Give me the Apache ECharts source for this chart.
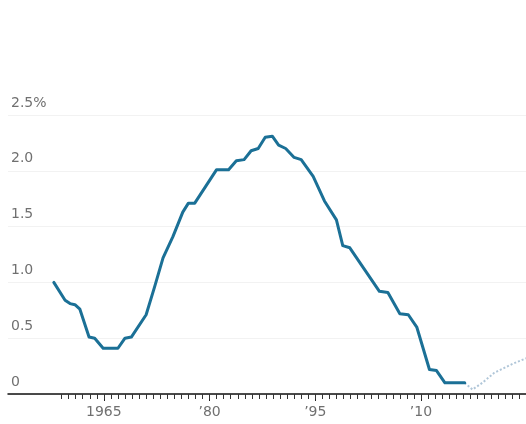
<!DOCTYPE html>
<html>
<head>
<meta charset="utf-8">
<script src="https://cdn.jsdelivr.net/npm/echarts@6/dist/echarts.min.js"></script>
<style>
html,body{margin:0;padding:0;background:#fff;}
#chart{width:526px;height:424px;}
</style>
</head>
<body>
<div id="chart"></div>
<script>
// Observed series (year, percent)
const years = [1957.9,1959.5,1960.2,1960.9,1961.6,1962.9,1963.7,1964.9,1967.0,1968.0,1968.9,1971.0,1972.2,1973.4,1974.8,1976.2,1977.0,1977.9,1981.0,1982.7,1983.8,1984.9,1985.9,1986.9,1987.9,1988.9,1989.8,1990.8,1992.0,1993.0,1994.7,1996.3,1998.0,1998.9,1999.9,2004.1,2005.3,2007.0,2008.2,2009.4,2011.2,2012.2,2013.4,2016.2];
const rate  = [1.00,0.84,0.81,0.80,0.76,0.51,0.50,0.41,0.41,0.50,0.51,0.71,0.96,1.22,1.41,1.63,1.71,1.71,2.01,2.01,2.09,2.10,2.18,2.20,2.30,2.31,2.23,2.20,2.12,2.10,1.95,1.73,1.56,1.33,1.31,0.92,0.91,0.72,0.71,0.60,0.22,0.21,0.10,0.10];
// Projection (dotted)
const projYears = [2016.2,2017.3,2018.7,2020.4,2023.0,2024.9];
const projRate  = [0.10,0.04,0.10,0.19,0.27,0.32];
// Axis ticks/labels
const majorYears = [1965,1980,1995,2010];
const minorYears = [];
for (let y = 1959; y <= 2024; y++) minorYears.push(y);
const yTicks = [0,0.5,1.0,1.5,2.0,2.5];

const xMin = 1951.4, xMax = 2024.9;
const font = 'DejaVu Sans';
const labelColor = '#707070';

const chart = echarts.init(document.getElementById('chart'), null, {renderer:'canvas'});
chart.setOption({
  animation:false,
  backgroundColor:'#ffffff',
  grid:{left:8,right:0,top:115,bottom:30,containLabel:false},
  xAxis:[{
    type:'value', min:xMin, max:xMax,
    axisLine:{show:true,lineStyle:{color:'#111',width:1.5}},
    axisTick:{show:true,customValues:majorYears,length:7,lineStyle:{color:'#222',width:1}},
    axisLabel:{customValues:majorYears,margin:11,color:labelColor,fontFamily:font,fontSize:14,
      formatter:v=> v===1965 ? '1965' : '\u2019' + String(v).slice(2)},
    splitLine:{show:false}
  },{
    type:'value', min:xMin, max:xMax, position:'bottom',
    axisLine:{show:false},
    axisTick:{show:true,customValues:minorYears,length:5,lineStyle:{color:'#333',width:1}},
    axisLabel:{show:false},
    splitLine:{show:false}
  }],
  yAxis:{
    type:'value', min:0, max:2.5, interval:0.5,
    axisLine:{show:false}, axisTick:{show:false},
    axisLabel:{inside:true,margin:3,verticalAlign:'bottom',align:'left',padding:[0,0,5,0],
      color:labelColor,fontFamily:font,fontSize:14,
      formatter:v=> v===2.5 ? '2.5%' : (v===0 ? '0' : v.toFixed(1))},
    splitLine:{show:true,lineStyle:{color:'#f2f2f2',width:1}}
  },
  series:[{
    type:'line', xAxisIndex:0,
    data: years.map((y,i)=>[y,rate[i]]),
    showSymbol:false, symbol:'none',
    lineStyle:{color:'#1b7096',width:3,join:'round',cap:'round'},
    z:3
  },{
    type:'line', xAxisIndex:0,
    data: projYears.map((y,i)=>[y,projRate[i]]),
    showSymbol:false, symbol:'none',
    lineStyle:{color:'#b0c6d8',width:2,type:'dotted'},
    z:2
  }]
});
</script>
</body>
</html>
